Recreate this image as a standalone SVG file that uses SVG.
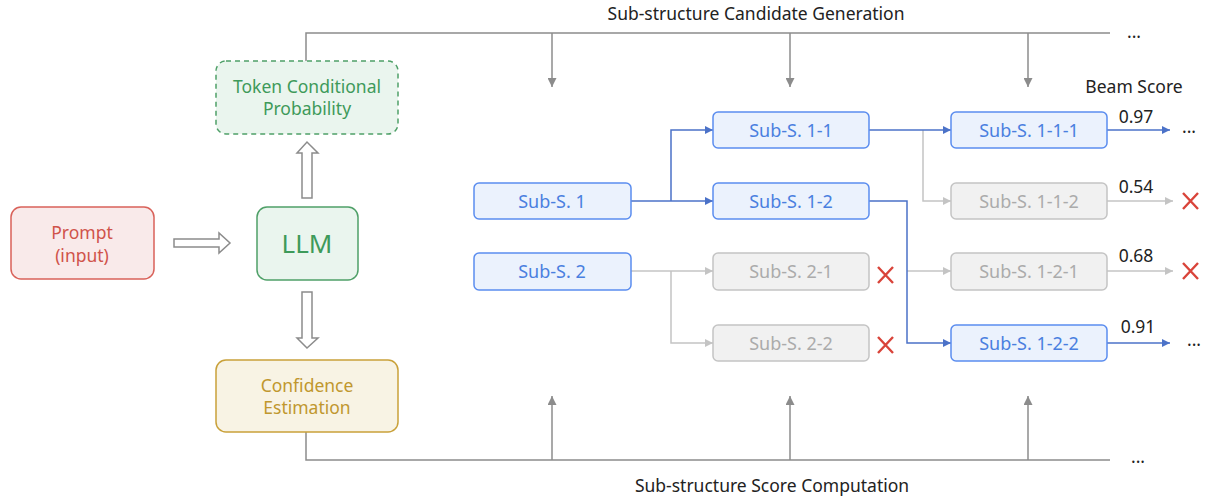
<svg xmlns="http://www.w3.org/2000/svg" width="1206" height="502" viewBox="0 0 1206 502">
<defs>
<style>
text{font-family:"Noto Sans","Open Sans",sans-serif;text-anchor:middle;dominant-baseline:central}
.lbl{font-size:17.5px;fill:#222}
.nb rect{fill:#EBF2FD;stroke:#5B8DEF;stroke-width:1.5}
.nb text{fill:#4A7FE0;font-size:18px}
.ng rect{fill:#F1F1F1;stroke:#C4C4C4;stroke-width:1.5}
.ng text{fill:#ABABAB;font-size:18px}
.frame{fill:none;stroke:#8C8C8C;stroke-width:1.5}
.cb{fill:none;stroke:#4B72C8;stroke-width:1.5}
.cg{fill:none;stroke:#C4C4C4;stroke-width:1.5}
.hollow{fill:#fff;stroke:#8C8C8C;stroke-width:1.5}
.x{stroke:#D9443A;stroke-width:2.4;fill:none}
.big{font-size:17.5px}
</style>
<marker id="ab" viewBox="0 0 10 10" refX="10" refY="5" markerWidth="8" markerHeight="8" markerUnits="userSpaceOnUse" orient="auto"><path d="M0,0L10,5L0,10z" fill="#4B72C8"/></marker>
<marker id="ag" viewBox="0 0 10 10" refX="10" refY="5" markerWidth="8" markerHeight="8" markerUnits="userSpaceOnUse" orient="auto"><path d="M0,0L10,5L0,10z" fill="#C4C4C4"/></marker>
<marker id="af" viewBox="0 0 10 10" refX="10" refY="5" markerWidth="9" markerHeight="9" markerUnits="userSpaceOnUse" orient="auto"><path d="M0,0L10,5L0,10z" fill="#8C8C8C"/></marker>
</defs>

<g id="frame-lines">
<path class="frame" d="M306,61V33H1110"/>
<path class="frame" d="M552,33V87" marker-end="url(#af)"/>
<path class="frame" d="M790,33V87" marker-end="url(#af)"/>
<path class="frame" d="M1028,33V87" marker-end="url(#af)"/>
<path class="frame" d="M306,432V460H1110"/>
<path class="frame" d="M552,460V396" marker-end="url(#af)"/>
<path class="frame" d="M790,460V396" marker-end="url(#af)"/>
<path class="frame" d="M1028,460V396" marker-end="url(#af)"/>
</g>
<text class="lbl" x="756" y="13">Sub-structure Candidate Generation</text>
<text class="lbl" x="772" y="485">Sub-structure Score Computation</text>
<text class="lbl" x="1134" y="31">...</text>
<text class="lbl" x="1138" y="456">...</text>
<text class="lbl" x="1134" y="86">Beam Score</text>

<g id="hollow-arrows">
<path class="hollow" d="M174,239H219V233L230,243L219,253V247H174Z"/>
<path class="hollow" d="M302,198V153H297L307,142L318,153H312V198Z"/>
<path class="hollow" d="M302,292V338H297L307,348L318,338H312V292Z"/>
</g>

<g id="prompt">
<rect x="11" y="207" width="143" height="72" rx="10" fill="#F9EAEA" stroke="#D9625A" stroke-width="1.5"/>
<text class="big" x="82" y="232" fill="#D0534A">Prompt</text>
<text class="big" x="82" y="255" fill="#D0534A">(input)</text>
</g>
<g id="llm">
<rect x="257" y="207" width="101" height="73" rx="10" fill="#EAF5EE" stroke="#4FA068" stroke-width="1.5"/>
<text x="307" y="243" font-size="26" fill="#3E9A5A">LLM</text>
</g>
<g id="token-prob">
<rect x="216" y="61" width="182" height="73" rx="10" fill="#EAF5EE" stroke="#4FA068" stroke-width="1.5" stroke-dasharray="5,4"/>
<text class="big" x="307" y="86" fill="#3E9A5A">Token Conditional</text>
<text class="big" x="307" y="108" fill="#3E9A5A">Probability</text>
</g>
<g id="confidence">
<rect x="216" y="360" width="182" height="72" rx="10" fill="#F8F3E4" stroke="#C9A13A" stroke-width="1.5"/>
<text class="big" x="307" y="385" fill="#C0972E">Confidence</text>
<text class="big" x="307" y="407" fill="#C0972E">Estimation</text>
</g>

<g id="connectors">
<path class="cb" d="M631,201H713" marker-end="url(#ab)"/>
<path class="cb" d="M671,201V130H713" marker-end="url(#ab)"/>
<path class="cg" d="M631,271H713" marker-end="url(#ag)"/>
<path class="cg" d="M671,271V343H713" marker-end="url(#ag)"/>
<path class="cg" d="M923,130V201H951" marker-end="url(#ag)"/>
<path class="cb" d="M869,130H951" marker-end="url(#ab)"/>
<path class="cg" d="M907,271H951" marker-end="url(#ag)"/>
<path class="cb" d="M869,201H907V343H951" marker-end="url(#ab)"/>
<path class="cb" d="M1107,130H1170" marker-end="url(#ab)"/>
<path class="cg" d="M1107,201H1173" marker-end="url(#ag)"/>
<path class="cg" d="M1107,271H1173" marker-end="url(#ag)"/>
<path class="cb" d="M1107,343H1170" marker-end="url(#ab)"/>
</g>

<g id="s1" class="nb"><rect x="474" y="183" width="157" height="36" rx="5"/><text x="552" y="201">Sub-S. 1</text></g>
<g id="s2" class="nb"><rect x="474" y="253" width="157" height="37" rx="5"/><text x="552" y="271">Sub-S. 2</text></g>
<g id="s11" class="nb"><rect x="713" y="112" width="156" height="36" rx="5"/><text x="791" y="130">Sub-S. 1-1</text></g>
<g id="s12" class="nb"><rect x="713" y="183" width="156" height="36" rx="5"/><text x="791" y="201">Sub-S. 1-2</text></g>
<g id="s21" class="ng"><rect x="713" y="253" width="156" height="37" rx="5"/><text x="791" y="271">Sub-S. 2-1</text></g>
<g id="s22" class="ng"><rect x="713" y="325" width="156" height="36" rx="5"/><text x="791" y="343">Sub-S. 2-2</text></g>
<g id="s111" class="nb"><rect x="951" y="112" width="156" height="36" rx="5"/><text x="1029" y="130">Sub-S. 1-1-1</text></g>
<g id="s112" class="ng"><rect x="951" y="183" width="156" height="36" rx="5"/><text x="1029" y="201">Sub-S. 1-1-2</text></g>
<g id="s121" class="ng"><rect x="951" y="253" width="156" height="37" rx="5"/><text x="1029" y="271">Sub-S. 1-2-1</text></g>
<g id="s122" class="nb"><rect x="951" y="325" width="156" height="36" rx="5"/><text x="1029" y="343">Sub-S. 1-2-2</text></g>

<g id="scores">
<text class="lbl" x="1136" y="116">0.97</text>
<text class="lbl" x="1136" y="186">0.54</text>
<text class="lbl" x="1136" y="255">0.68</text>
<text class="lbl" x="1138" y="326">0.91</text>
<text class="lbl" x="1189" y="126">...</text>
<text class="lbl" x="1194" y="339">...</text>
</g>
<g id="rejects">
<path class="x" d="M878,267L893,283M893,267L878,283"/>
<path class="x" d="M878,337L893,353M893,337L878,353"/>
<path class="x" d="M1183,193L1198,209M1198,193L1183,209"/>
<path class="x" d="M1183,263L1198,279M1198,263L1183,279"/>
</g>
</svg>
